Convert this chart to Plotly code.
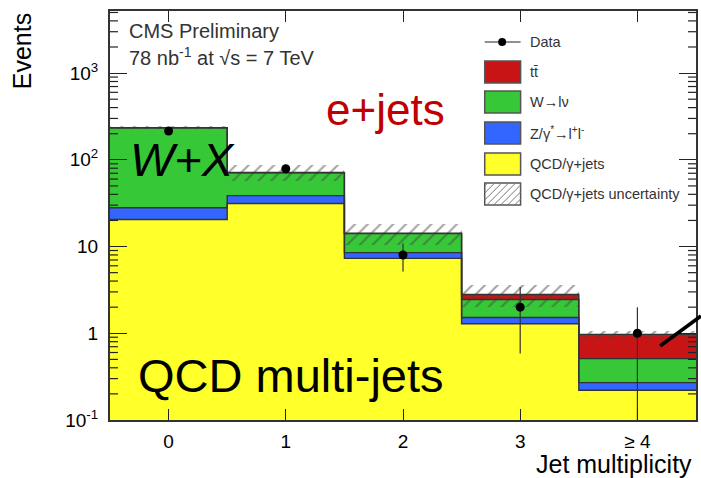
import numpy as np
import plotly.graph_objects as go

# ---- data: event yields per jet-multiplicity bin ----
bins = [0, 1, 2, 3, 4]
bin_labels = ["0", "1", "2", "3", "≥ 4"]
qcd = [20.5, 31.3, 7.3, 1.29, 0.22]        # QCD / gamma+jets
zll = [7.5, 7.4, 1.2, 0.23, 0.05]          # Z/gamma* -> l+l-
wln = [206.0, 32.3, 5.6, 0.93, 0.24]       # W -> l nu
ttbar = [0.2, 0.3, 0.15, 0.35, 0.46]       # t tbar
qcd_unc = [10.0, 15.0, 3.8, 0.8, 0.1]      # QCD/gamma+jets uncertainty
data = [215, 79, 8, 2, 1]

y_ticks = [0.1, 1, 10, 100, 1000]
y_ticktext = ["10<sup>-1</sup>", "1", "10", "10<sup>2</sup>", "10<sup>3</sup>"]

C_TT = "#c81414"
C_W = "#36c836"
C_Z = "#3366ff"
C_QCD = "#ffff2a"
EDGE = "#333333"

W, H = 701, 478
L, R, T, B = 110, 698, 11, 420
X_RANGE = [-0.5, 4.5]
Y_RANGE = [-1, np.log10(5200)]


def px(x):
    return (x - L) / (R - L)


def py(y):
    return (B - y) / (B - T)


comps = [("QCD", qcd, C_QCD), ("Z", zll, C_Z), ("W", wln, C_W), ("tt", ttbar, C_TT)]
stack = np.zeros(len(bins))
levels = []
fig = go.Figure()
for name, vals, col in comps:
    vals = np.asarray(vals, dtype=float)
    base = np.where(stack > 0, stack, 1e-4)
    fig.add_trace(go.Bar(
        x=bins, y=stack + vals - base, base=base, width=1.0,
        marker=dict(color=col, line=dict(width=0)), showlegend=False,
        hoverinfo="skip"))
    stack = stack + vals
    levels.append(stack.copy())

total = stack
unc = np.asarray(qcd_unc)
fig.add_trace(go.Bar(
    x=bins, y=2 * unc, base=total - unc, width=1.0,
    marker=dict(color="rgba(0,0,0,0)", line=dict(width=0),
                pattern=dict(shape="/", fgcolor="#444444", bgcolor="rgba(0,0,0,0)",
                             size=9, solidity=0.22, fillmode="overlay")),
    showlegend=False, hoverinfo="skip"))

# histogram step outlines for each cumulative level
edges = np.arange(-0.5, 5.0, 1.0)
for lev in levels:
    fig.add_trace(go.Scatter(
        x=edges, y=list(lev) + [lev[-1]], mode="lines", line_shape="hv",
        line=dict(color=EDGE, width=1.4), showlegend=False, hoverinfo="skip"))

# minor log ticks on both vertical frame edges (8 px long)
minor_vals = [m * 10.0 ** e for e in range(-1, 4) for m in range(2, 10)]
tick_dx = 8.0 * (X_RANGE[1] - X_RANGE[0]) / (R - L)
mx, my = [], []
for v in minor_vals:
    if not Y_RANGE[0] < np.log10(v) < Y_RANGE[1]:
        continue
    mx += [X_RANGE[0], X_RANGE[0] + tick_dx, None, X_RANGE[1] - tick_dx, X_RANGE[1], None]
    my += [v, v, None, v, v, None]
fig.add_trace(go.Scatter(x=mx, y=my, mode="lines", line=dict(color="#222222", width=1.2),
                         showlegend=False, hoverinfo="skip", cliponaxis=False))

d = np.asarray(data, dtype=float)
err = np.sqrt(d)
err_lo = np.minimum(err, d * 0.999)
fig.add_trace(go.Scatter(
    x=bins, y=d, mode="markers",
    marker=dict(color="black", size=9),
    error_y=dict(type="data", array=err, arrayminus=err_lo, symmetric=False,
                 color="#333333", thickness=1.2, width=0),
    showlegend=False))

shapes = []
annotations = []

# ---- legend drawn by hand ----
LX0, LX1, LTX = 486, 522, 529
rows = [42, 72, 102, 133, 164, 194]
labels = ["Data", "tt\u0304", "W→lν", "Z/γ<sup>*</sup>→l<sup>+</sup>l<sup>-</sup>",
          "QCD/γ+jets", "QCD/γ+jets uncertainty"]
fills = [None, C_TT, C_W, C_Z, C_QCD, "white"]
for yc, lab, fc in zip(rows, labels, fills):
    annotations.append(dict(x=px(LTX), y=py(yc), xref="paper", yref="paper",
                            text=lab, showarrow=False, xanchor="left", yanchor="middle",
                            font=dict(family="Liberation Sans", size=14.5, color="#333333")))
    if fc is None:
        shapes.append(dict(type="line", xref="paper", yref="paper",
                           x0=px(LX0), x1=px(LX1), y0=py(yc), y1=py(yc),
                           line=dict(color="#222222", width=1.2)))
        shapes.append(dict(type="circle", xref="paper", yref="paper",
                           x0=px(503.5 - 4), x1=px(503.5 + 4), y0=py(yc + 4), y1=py(yc - 4),
                           fillcolor="black", line=dict(color="black", width=0)))
        continue
    shapes.append(dict(type="rect", xref="paper", yref="paper",
                       x0=px(LX0), x1=px(LX1), y0=py(yc + 11), y1=py(yc - 11),
                       fillcolor=fc, line=dict(color="#555555", width=1.5)))

# hatch lines inside the uncertainty swatch
hy0, hy1 = rows[-1] + 11, rows[-1] - 11
hh = hy0 - hy1
for sx in np.arange(LX0 - hh + 3, LX1, 7.0):
    xa, ya = sx, hy0
    xb, yb = sx + hh, hy1
    if xa < LX0:
        ya = hy0 - (LX0 - xa)
        xa = LX0
    if xb > LX1:
        yb = hy1 + (xb - LX1)
        xb = LX1
    if xb - xa < 1:
        continue
    shapes.append(dict(type="line", xref="paper", yref="paper",
                       x0=px(xa), y0=py(ya), x1=px(xb), y1=py(yb),
                       line=dict(color="#777777", width=1)))

# pointer line towards the ttbar contribution
shapes.append(dict(type="line", xref="paper", yref="paper",
                   x0=px(662), y0=py(346), x1=px(703), y1=py(316),
                   line=dict(color="black", width=3.5)))

# ---- text labels ----
FONT = "Liberation Sans"
annotations += [
    dict(x=px(127), y=py(31), text="CMS Preliminary", xanchor="left", yanchor="middle",
         font=dict(family=FONT, size=20, color="#333333")),
    dict(x=px(127), y=py(57), text="78 nb<sup>-1</sup> at √s = 7 TeV", xanchor="left",
         yanchor="middle", font=dict(family=FONT, size=20, color="#333333")),
    dict(x=px(386), y=py(110), text="e+jets", xanchor="center", yanchor="middle",
         font=dict(family=FONT, size=44, color="#c00000")),
    dict(x=px(128), y=py(160), text="<i>W+X</i>", xanchor="left", yanchor="middle",
         font=dict(family=FONT, size=47, color="black")),
    dict(x=px(136), y=py(375), text="QCD multi-jets", xanchor="left", yanchor="middle",
         font=dict(family=FONT, size=47, color="black")),
    dict(x=px(22), y=py(51), text="Events", textangle=-90, xanchor="center",
         yanchor="middle", font=dict(family=FONT, size=25, color="black")),
    dict(x=px(696), y=py(464), text="Jet multiplicity", xanchor="right",
         yanchor="middle", font=dict(family=FONT, size=25, color="black")),
]
for a in annotations:
    a.setdefault("xref", "paper")
    a.setdefault("yref", "paper")
    a.setdefault("showarrow", False)

fig.update_layout(
    width=W, height=H,
    margin=dict(l=L, r=W - R, t=T, b=H - B),
    paper_bgcolor="white", plot_bgcolor="white",
    barmode="overlay", bargap=0,
    shapes=shapes, annotations=annotations,
    xaxis=dict(range=X_RANGE, tickmode="array", tickvals=bins, ticktext=bin_labels,
               ticks="inside", ticklen=11, tickwidth=1.2, tickcolor="#222222",
               showline=True, linecolor="#333333", linewidth=2, mirror="allticks",
               showgrid=False, zeroline=False, ticklabelstandoff=3,
               tickfont=dict(family=FONT, size=19, color="black")),
    yaxis=dict(type="log", range=Y_RANGE, tickmode="array",
               tickvals=y_ticks, ticktext=y_ticktext,
               ticks="inside", ticklen=17, tickwidth=1.4, tickcolor="#222222",
               showline=True, linecolor="#333333", linewidth=2, mirror="allticks",
               showgrid=False, zeroline=False, ticklabelstandoff=6,
               tickfont=dict(family=FONT, size=19, color="black")),
)

fig.write_html("out.html")
